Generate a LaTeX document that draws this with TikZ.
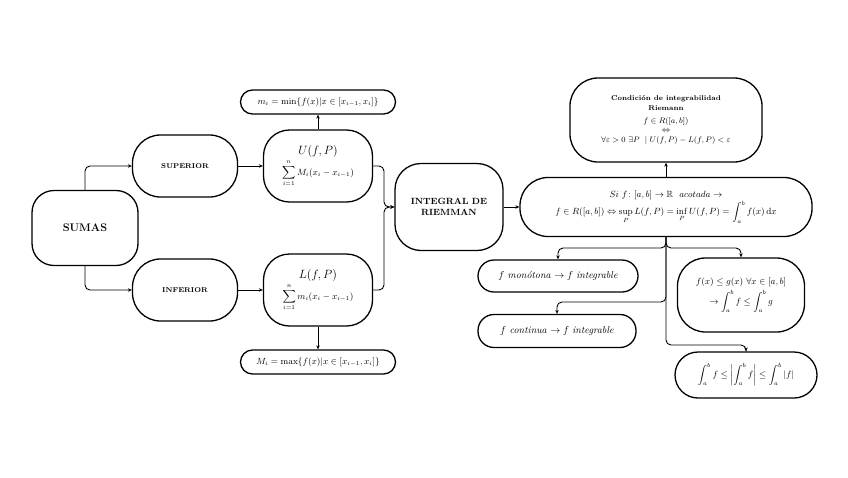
\documentclass[tikz,border=0pt]{standalone}
\usepackage{amsmath,amssymb}
\usetikzlibrary{arrows.meta}

\tikzset{
    caja/.style={draw, line width=1.3pt, rounded corners=#1, align=center, inner sep=1pt},
    caja/.default=12pt,
    flecha/.style={-{Stealth[length=4pt,width=3.5pt]}, line width=0.9pt, rounded corners=5pt}
}

\begin{document}
\begin{tikzpicture}[x=1pt,y=-1pt]
    \useasboundingbox (0,0) rectangle (848,477);

    % lado izquierdo: sumas
    \node [caja=22pt, minimum width=106pt, minimum height=75pt, font=\bfseries\fontsize{11}{13}\selectfont] (sumas) at (85,228) {SUMAS};
    \node [caja=28pt, minimum width=105pt, minimum height=62pt, font=\bfseries\scriptsize] (sup) at (185,166) {SUPERIOR};
    \node [caja=28pt, minimum width=105pt, minimum height=62pt, font=\bfseries\scriptsize] (inf) at (185,290) {INFERIOR};

    \node [caja=26pt, minimum width=109pt, minimum height=72pt] (U) at (318,166)
        {\large $U(f,P)$\\[2pt] \small $\displaystyle\sum_{i=1}^{n} M_i(x_i-x_{i-1})$};
    \node [caja=26pt, minimum width=109pt, minimum height=72pt] (L) at (318,290)
        {\large $L(f,P)$\\[2pt] \small $\displaystyle\sum_{i=1}^{n} m_i(x_i-x_{i-1})$};

    \node [caja=12pt, minimum width=155pt, minimum height=24pt, font=\small] (mmin) at (318,102)
        {$m_i=\min\{f(x)|x\in[x_{i-1},x_i]\}$};
    \node [caja=12pt, minimum width=155pt, minimum height=24pt, font=\small] (Mmax) at (318,362)
        {$M_i=\max\{f(x)|x\in[x_{i-1},x_i]\}$};

    \node [caja=26pt, minimum width=108pt, minimum height=87pt, font=\bfseries\small] (riem) at (449,207)
        {INTEGRAL DE\\RIEMMAN};

    % lado derecho
    \node [caja=28pt, minimum width=292pt, minimum height=59pt, font=\small] (prin) at (666,207)
        {$Si\ f\colon[a,b]\to\mathbb{R}\ \ acotada\to$\\[0pt]
         $\displaystyle f\in R([a,b])\Leftrightarrow\sup_P L(f,P)=\inf_P U(f,P)=\int_a^b f(x)\,\mathrm{d}x$};
    \node [caja=28pt, minimum width=192pt, minimum height=84pt, font=\footnotesize] (cond) at (666,120)
        {\bfseries\scriptsize Condición de integrabilidad\\[1pt] \bfseries\scriptsize Riemann\\[3pt]
         $f\in R([a,b])$\\[0pt] $\Leftrightarrow$\\[0pt]
         $\forall\varepsilon>0\ \exists P\ \mid U(f,P)-L(f,P)<\varepsilon$};

    \node [caja=16pt, minimum width=160pt, minimum height=32pt] (mono) at (558,276)
        {$f$ \textit{monótona} $\rightarrow f$ \textit{integrable}};
    \node [caja=16pt, minimum width=158pt, minimum height=33pt] (cont) at (557,331)
        {$f$ \textit{continua} $\rightarrow f$ \textit{integrable}};
    \node [caja=28pt, minimum width=127pt, minimum height=74pt, font=\small] (fg) at (741,295)
        {$f(x)\le g(x)\ \forall x\in[a,b]$\\[3pt] $\displaystyle\rightarrow\int_a^b f\le\int_a^b g$};
    \node [caja=23pt, minimum width=142pt, minimum height=46pt, font=\small] (ineq) at (746,375)
        {$\displaystyle\int_a^b f\le\left|\int_a^b f\right|\le\int_a^b|f|$};

    \coordinate (juntaR) at (384,207);
    \coordinate (ramaA) at (666,248);
    \coordinate (ramaB) at (666,302);
    \coordinate (ramaC) at (666,345);

    \draw [flecha] (sumas.north) |- (sup.west);
    \draw [flecha] (sumas.south) |- (inf.west);
    \draw [flecha] (sup) -- (U);
    \draw [flecha] (inf) -- (L);
    \draw [flecha] (U.north) -- (mmin.south);
    \draw [flecha] (L.south) -- (Mmax.north);
    \draw [flecha] (U.east) -| (juntaR) -- (riem.west);
    \draw [flecha] (L.east) -| (juntaR) -- (riem.west);
    \draw [flecha] (riem) -- (prin);
    \draw [flecha] (prin.north) -- (cond.south);

    \draw [flecha] (prin.south) -- (ramaA) -| (mono.north);
    \draw [flecha] (prin.south) -- (ramaA) -| (fg.north);
    \draw [flecha] (prin.south) -- (ramaB) -| (cont.north);
    \draw [flecha] (prin.south) -- (ramaC) -| (ineq.north);

\end{tikzpicture}
\end{document}
